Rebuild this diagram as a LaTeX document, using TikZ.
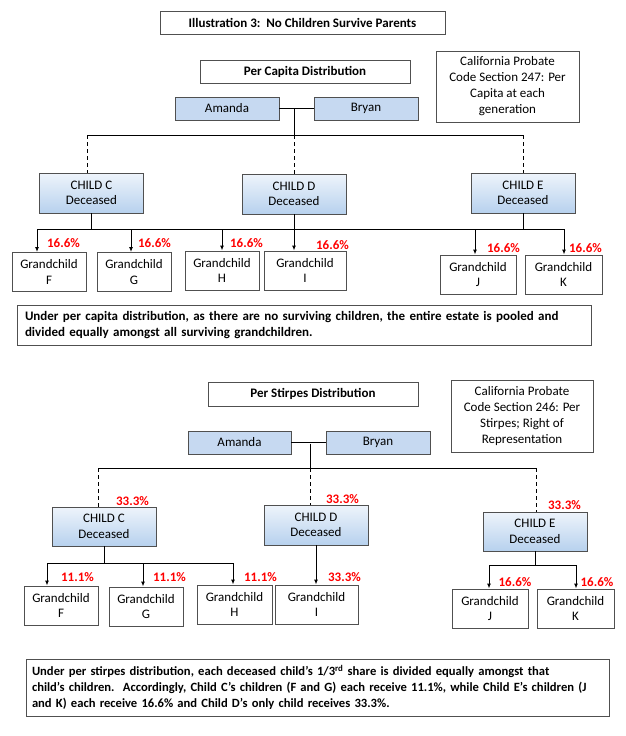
\documentclass[tikz,border=0pt]{standalone}
\usepackage{fontspec}
\setmainfont{Carlito}
\usetikzlibrary{arrows.meta}
\definecolor{parentblue}{HTML}{C6D9F1}
\definecolor{childtop}{HTML}{EEF4FB}
\definecolor{childbottom}{HTML}{B7D1EE}
\definecolor{boxline}{HTML}{505050}
\begin{document}
\begin{tikzpicture}
  [x=1pt, y=-1pt,
   every node/.style={font=\fontsize{13}{15.5}\selectfont, inner sep=0pt, align=center},
   plainbox/.style={draw=boxline, line width=0.9pt},
   headbox/.style={plainbox, font=\bfseries\fontsize{13}{15.5}\selectfont},
   parentbox/.style={plainbox, fill=parentblue, minimum width=104, minimum height=23},
   childbox/.style={plainbox, top color=childtop, bottom color=childbottom, minimum width=104, minimum height=40},
   grandbox/.style={plainbox, fill=white, minimum height=39},
   notebox/.style={plainbox, align=left, font=\bfseries\fontsize{13}{16}\selectfont},
   share/.style={text=red, font=\bfseries\fontsize{13}{15.5}\selectfont},
   link/.style={line width=1pt},
   descent/.style={link, dashed, dash pattern=on 4pt off 3pt},
   toshare/.style={link, -{Latex[length=5pt, width=4pt]}}]
  \useasboundingbox (0,0) rectangle (625,736);

  % per capita
  \node[headbox, minimum width=285, minimum height=23] (title) at (302.5,22.5)
    {Illustration 3:\ \ No Children Survive Parents};
  \node[headbox, minimum width=210, minimum height=23] (capitaHead) at (305,71.5)
    {Per Capita Distribution};
  \node[plainbox, minimum width=143, minimum height=71, font=\fontsize{13}{16}\selectfont] (code247) at (507.5,86.5)
    {California Probate\\Code Section 247: Per\\Capita at each\\generation};
  \node[parentbox] (amandaA) at (227,108.5) {Amanda};
  \node[parentbox] (bryanA) at (366,108.5) {Bryan};
  \node[childbox] (childC) at (91.5,193) {CHILD C\\Deceased};
  \node[childbox] (childD) at (294,194) {CHILD D\\Deceased};
  \node[childbox] (childE) at (523,193) {CHILD E\\Deceased};
  \node[grandbox, minimum width=74] (grandF) at (49,272) {Grandchild\\F};
  \node[grandbox, minimum width=74] (grandG) at (134,272) {Grandchild\\G};
  \node[grandbox, minimum width=74] (grandH) at (222,270.5) {Grandchild\\H};
  \node[grandbox, minimum width=82] (grandI) at (305,270.5) {Grandchild\\I};
  \node[grandbox, minimum width=76] (grandJ) at (478,274.5) {Grandchild\\J};
  \node[grandbox, minimum width=77] (grandK) at (563.5,274.5) {Grandchild\\K};
  \foreach \g/\px/\py in {F/63.5/243,G/154.5/243,H/246.5/243,I/332.5/245,J/503.5/248,K/585.5/248}
    \node[share] (pct\g) at (\px,\py) {16.6\%};
  \node[notebox, minimum width=574, minimum height=40, text width=558] (noteA) at (304,325)
    {Under per capita distribution, as there are no surviving children, the entire estate is pooled and\\
     divided equally amongst all surviving grandchildren.};

  \coordinate (wedA) at (294,108.5);
  \coordinate (busA) at (294,135);
  \coordinate (busAl) at (87,135);
  \coordinate (busAr) at (523,135);
  \coordinate (poolL) at (37,229);
  \coordinate (poolR) at (564,229);
  \draw[link] (amandaA.east) -- (bryanA.west);
  \draw[link] (wedA) -- (busA);
  \draw[link] (busAl) -- (busAr);
  \draw[descent] (busAl) -- (busAl |- childC.north);
  \draw[descent] (busA) -- (childD.north);
  \draw[descent] (busAr) -- (childE.north);
  \draw[link] (childC.south) -- (childC.south |- poolL);
  \draw[link] (childE.south) -- (childE.south |- poolL);
  \draw[link] (poolL) -- (poolR);
  \draw[toshare] (childD.south) -- (childD.south |- grandI.north);
  \foreach \g/\xa in {F/37,G/131,H/222,J/475,K/564}
    \draw[toshare] (\xa,229) -- (\xa,0 |- grand\g.north);

  % per stirpes
  \node[headbox, minimum width=210, minimum height=24] (stirpesHead) at (313,394)
    {Per Stirpes Distribution};
  \node[plainbox, minimum width=142, minimum height=72, font=\fontsize{13}{16}\selectfont] (code246) at (522,416)
    {California Probate\\Code Section 246: Per\\Stirpes; Right of\\Representation};
  \node[parentbox, minimum width=103] (amandaB) at (239.5,442.5) {Amanda};
  \node[parentbox] (bryanB) at (378,442.5) {Bryan};
  \node[childbox, minimum height=39] (childC2) at (104,526.5) {CHILD C\\Deceased};
  \node[childbox] (childD2) at (316,525) {CHILD D\\Deceased};
  \node[childbox, minimum height=39] (childE2) at (535,531.5) {CHILD E\\Deceased};
  \node[grandbox, minimum width=74] (grandF2) at (61,605.5) {Grandchild\\F};
  \node[grandbox, minimum width=74] (grandG2) at (146,606.5) {Grandchild\\G};
  \node[grandbox, minimum width=75] (grandH2) at (234.5,604.5) {Grandchild\\H};
  \node[grandbox, minimum width=83] (grandI2) at (316.5,604.5) {Grandchild\\I};
  \node[grandbox, minimum width=76] (grandJ2) at (490,608.5) {Grandchild\\J};
  \node[grandbox, minimum width=77] (grandK2) at (575.5,608.5) {Grandchild\\K};
  \foreach \g/\px/\py/\v in {C2/132.5/501/33.3,D2/342.5/499/33.3,E2/564.5/505/33.3,
      F2/77.5/577/11.1,G2/169.5/577/11.1,H2/260.5/577/11.1,I2/344.5/577/33.3,
      J2/515/582/16.6,K2/597/582/16.6}
    \node[share] (pct\g) at (\px,\py) {\v\%};
  \node[notebox, minimum width=583, minimum height=57, text width=571,
        font=\bfseries\fontsize{12.6}{16}\selectfont] (noteB) at (317.5,687.5)
    {Under per stirpes distribution, each deceased child’s 1/3\textsuperscript{rd} share is divided equally amongst that\\
     child’s children.\ \ Accordingly, Child C’s children (F and G) each receive 11.1\%, while Child E’s children (J\\
     and K) each receive 16.6\% and Child D’s only child receives 33.3\%.};

  \coordinate (wedB) at (310,443.5);
  \coordinate (busB) at (310,468);
  \coordinate (busBl) at (98,468);
  \coordinate (busBr) at (536,468);
  \coordinate (stirpC) at (47,563);
  \coordinate (stirpCr) at (233,563);
  \coordinate (stirpE) at (489,565);
  \coordinate (stirpEr) at (576,565);
  \draw[link] (amandaB.east) -- (bryanB.west);
  \draw[link] (wedB) -- (busB);
  \draw[link] (busBl) -- (busBr);
  \draw[descent] (busBl) -- (busBl |- childC2.north);
  \draw[descent] (busB) -- (busB |- childD2.north);
  \draw[descent] (busBr) -- (busBr |- childE2.north);
  \draw[link] (childC2.south) -- (childC2.south |- stirpC);
  \draw[link] (stirpC) -- (stirpCr);
  \draw[link] (childE2.south) -- (childE2.south |- stirpE);
  \draw[link] (stirpE) -- (stirpEr);
  \draw[toshare] (childD2.south) -- (childD2.south |- grandI2.north);
  \draw[toshare] (stirpC) -- (stirpC |- grandF2.north);
  \draw[toshare] (143,563) -- (143,0 |- grandG2.north);
  \draw[toshare] (stirpCr) -- (stirpCr |- grandH2.north);
  \draw[toshare] (stirpE) -- (stirpE |- grandJ2.north);
  \draw[toshare] (stirpEr) -- (stirpEr |- grandK2.north);
\end{tikzpicture}
\end{document}
